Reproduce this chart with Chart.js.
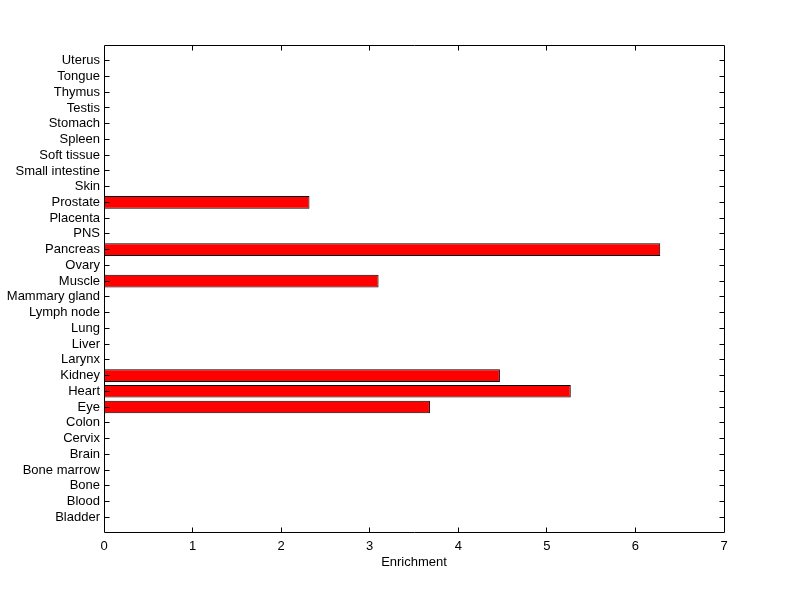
<!DOCTYPE html>
<html>
<head>
<meta charset="utf-8">
<script src="https://cdn.jsdelivr.net/npm/chart.js@4.4.0/dist/chart.umd.min.js"></script>
<style>
  html, body { margin: 0; padding: 0; background: #fff; }
  #wrap { width: 800px; height: 599px; }
</style>
</head>
<body>
<div id="wrap"><canvas id="chart" width="800" height="599"></canvas></div>
<script>
// Tissues, bottom to top
const tissues = [
  "Bladder", "Blood", "Bone", "Bone marrow", "Brain", "Cervix", "Colon", "Eye",
  "Heart", "Kidney", "Larynx", "Liver", "Lung", "Lymph node", "Mammary gland",
  "Muscle", "Ovary", "Pancreas", "PNS", "Placenta", "Prostate", "Skin",
  "Small intestine", "Soft tissue", "Spleen", "Stomach", "Testis", "Thymus",
  "Tongue", "Uterus"
];

// Enrichment per tissue (same order)
const enrichment = [
  0, 0, 0, 0, 0, 0, 0, 3.68,
  5.27, 4.47, 0, 0, 0, 0, 0,
  3.10, 0, 6.28, 0, 0, 2.32, 0,
  0, 0, 0, 0, 0, 0,
  0, 0
];

const xTicks = [0, 1, 2, 3, 4, 5, 6, 7];

const FONT = { family: "Liberation Sans, Arial, sans-serif", size: 13 };

// MATLAB style box with inward ticks on all four sides
const boxTicks = {
  id: "boxTicks",
  afterDraw(chart) {
    const { ctx, chartArea: a, scales } = chart;
    const len = 5;
    ctx.save();
    ctx.strokeStyle = "#000";
    ctx.lineWidth = 1;
    const L = Math.floor(a.left) + 0.5, R = Math.floor(a.right) + 0.5;
    const T = Math.floor(a.top) + 0.5, B = Math.ceil(a.bottom) - 0.5;
    ctx.beginPath();
    ctx.rect(L, T, R - L, B - T);
    scales.y.ticks.forEach((t) => {
      if (t.value < 1 || t.value > tissues.length) return;
      const y = Math.floor(scales.y.getPixelForValue(t.value)) + 0.5;
      ctx.moveTo(L, y); ctx.lineTo(L + len, y);
      ctx.moveTo(R, y); ctx.lineTo(R - len, y);
    });
    scales.x.ticks.forEach((t) => {
      if (t.value <= xTicks[0] || t.value >= xTicks[xTicks.length - 1]) return;
      const x = Math.floor(scales.x.getPixelForValue(t.value)) + 0.5;
      ctx.moveTo(x, B); ctx.lineTo(x, B - len);
      ctx.moveTo(x, T); ctx.lineTo(x, T + len);
    });
    ctx.stroke();
    ctx.restore();
  }
};

const ctx = document.getElementById("chart").getContext("2d");
new Chart(ctx, {
  type: "bar",
  data: {
    datasets: [{
      data: enrichment.map((v, i) => ({ x: v, y: i + 1 })),
      backgroundColor: "#ff0000",
      borderColor: "#000",
      borderWidth: 1,
      borderSkipped: false,
      barPercentage: 0.8,
      categoryPercentage: 1
    }]
  },
  options: {
    indexAxis: "y",
    responsive: false,
    animation: false,
    layout: { padding: { left: 0, right: 76, top: 45, bottom: 29 } },
    plugins: { legend: { display: false }, tooltip: { enabled: false } },
    scales: {
      x: {
        type: "linear",
        min: xTicks[0],
        max: xTicks[xTicks.length - 1],
        afterBuildTicks: (s) => { s.ticks = xTicks.map((v) => ({ value: v })); },
        afterFit: (s) => { s.height = 37; },
        grid: { display: false, drawTicks: false },
        border: { display: false },
        ticks: { color: "#000", font: FONT, padding: 6, maxRotation: 0 },
        title: { display: true, text: "Enrichment", color: "#000", font: FONT, padding: { top: 1, bottom: 0 } }
      },
      y: {
        type: "linear",
        offset: false,
        min: 0,
        max: tissues.length + 1,
        afterBuildTicks: (s) => { s.ticks = tissues.map((_, i) => ({ value: i + 1 })); },
        afterFit: (s) => { s.width = 104; },
        grid: { display: false, drawTicks: false },
        border: { display: false },
        ticks: {
          color: "#000",
          font: FONT,
          padding: 4,
          autoSkip: false,
          callback: (v) => tissues[v - 1] || ""
        }
      }
    }
  },
  plugins: [boxTicks]
});
</script>
</body>
</html>
